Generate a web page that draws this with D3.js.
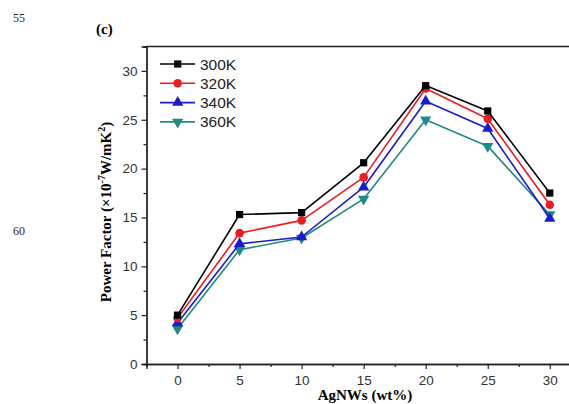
<!DOCTYPE html>
<html>
<head>
<meta charset="utf-8">
<script src="https://cdn.jsdelivr.net/npm/d3@7"></script>
<style>
  html, body { margin: 0; padding: 0; background: #fff; }
  svg { display: block; }
</style>
</head>
<body>
<svg id="chart" width="569" height="404"></svg>
<script>
// AgNWs loading (wt%) and power factor (x10^-7 W/mK^2) at each temperature
const loadings = [0, 5, 10, 15, 20, 25, 30];
const pf300K = [5.0, 15.3, 15.5, 20.6, 28.5, 25.9, 17.5];
const pf320K = [4.7, 13.4, 14.7, 19.1, 28.2, 25.1, 16.3];
const pf340K = [4.2, 12.3, 13.0, 18.1, 26.9, 24.1, 14.9];
const pf360K = [3.6, 11.7, 12.9, 16.9, 25.0, 22.3, 15.3];
const seriesNames = ["300K", "320K", "340K", "360K"];
const xTicks = [0, 5, 10, 15, 20, 25, 30];
const yTicks = [0, 5, 10, 15, 20, 25, 30];

const seriesValues = [pf300K, pf320K, pf340K, pf360K];
const colors = ["#000000", "#ee1c1c", "#1a1ad0", "#1f8a84"];
const symbols = [d3.symbolSquare, d3.symbolCircle, d3.symbolTriangle, d3.symbolTriangle];

const svg = d3.select("#chart");
const plotLeft = 146.5, plotTop = 46.5, plotBottom = 364;

const x = d3.scaleLinear().domain([-2.5, 32.5]).range([plotLeft, 580.8]);
const y = d3.scaleLinear().domain([0, 32.5]).range([plotBottom, plotTop]);

// page margin numbers
svg.append("text").attr("x", 13).attr("y", 22).text("55")
  .attr("font-family", "Liberation Serif").attr("font-size", 12).attr("fill", "#222");
svg.append("text").attr("x", 13).attr("y", 235).text("60")
  .attr("font-family", "Liberation Serif").attr("font-size", 12).attr("fill", "#222");

// panel tag
svg.append("text").attr("x", 96).attr("y", 34).text("(c)")
  .attr("font-family", "Liberation Serif").attr("font-weight", "bold").attr("font-size", 15);

// frame top line
svg.append("line").attr("x1", plotLeft).attr("x2", 569).attr("y1", plotTop).attr("y2", plotTop)
  .attr("stroke", "#222").attr("stroke-width", 1.3);

// axes
const xAxis = d3.axisBottom(x).tickValues(xTicks).tickSize(5).tickPadding(6);
const xMinor = d3.axisBottom(x).tickValues(d3.range(-2.5, 33, 5)).tickSize(3).tickFormat("");
const yAxis = d3.axisLeft(y).tickValues(yTicks).tickSize(5).tickPadding(4);
const yMinor = d3.axisLeft(y).tickValues(d3.range(2.5, 33, 5)).tickSize(3).tickFormat("");

function styleAxis(g) {
  g.select(".domain").attr("stroke", "#222").attr("stroke-width", 1.3);
  g.selectAll(".tick line").attr("stroke", "#222").attr("stroke-width", 1.2);
  g.selectAll(".tick text").attr("font-family", "Liberation Sans").attr("font-size", 13.5).attr("fill", "#333");
}

const gxm = svg.append("g").attr("transform", `translate(0,${plotBottom})`).call(xMinor); styleAxis(gxm);
const gx = svg.append("g").attr("transform", `translate(0,${plotBottom})`).call(xAxis); styleAxis(gx);
const gym = svg.append("g").attr("transform", `translate(${plotLeft},0)`).call(yMinor); styleAxis(gym);
const gy = svg.append("g").attr("transform", `translate(${plotLeft},0)`).call(yAxis); styleAxis(gy);

// axis titles
svg.append("text").attr("x", 365).attr("y", 400).attr("text-anchor", "middle")
  .attr("font-family", "Liberation Serif").attr("font-weight", "bold").attr("font-size", 15)
  .text("AgNWs (wt%)");

const yl = svg.append("text").attr("transform", "translate(111,212) rotate(-90)")
  .attr("text-anchor", "middle")
  .attr("font-family", "Liberation Serif").attr("font-weight", "bold").attr("font-size", 15);
yl.append("tspan").text("Power Factor (\u00d710");
yl.append("tspan").attr("dy", -6).attr("font-size", 10).text("-7");
yl.append("tspan").attr("dy", 6).text("W/mK");
yl.append("tspan").attr("dy", -6).attr("font-size", 10).text("2");
yl.append("tspan").attr("dy", 6).text(")");

// series lines and markers
const line = d3.line().x((d, i) => x(loadings[i])).y(d => y(d));

function marker(g, i, cx, cy) {
  const sizes = [52, 58, 55, 55];
  const rot = i === 3 ? 180 : 0;
  g.append("path")
    .attr("d", d3.symbol().type(symbols[i]).size(sizes[i])())
    .attr("transform", `translate(${cx},${cy}) rotate(${rot})`)
    .attr("fill", colors[i]);
}

for (let i = seriesValues.length - 1; i >= 0; i--) {
  const vals = seriesValues[i];
  svg.append("path").datum(vals).attr("d", line)
    .attr("fill", "none").attr("stroke", colors[i]).attr("stroke-width", 1.6)
    .attr("stroke-linejoin", "round");
  const g = svg.append("g");
  vals.forEach((v, j) => marker(g, i, x(loadings[j]), y(v)));
}

// legend
const leg = svg.append("g");
seriesNames.forEach((name, i) => {
  const ly = 64 + i * 19.3;
  leg.append("line").attr("x1", 160).attr("x2", 195).attr("y1", ly).attr("y2", ly)
    .attr("stroke", colors[i]).attr("stroke-width", 1.6);
  marker(leg, i, 177.7, ly);
  leg.append("text").attr("x", 200).attr("y", ly + 5.5).text(name)
    .attr("font-family", "Liberation Sans").attr("font-size", 15.5).attr("fill", "#222");
});
</script>
</body>
</html>
